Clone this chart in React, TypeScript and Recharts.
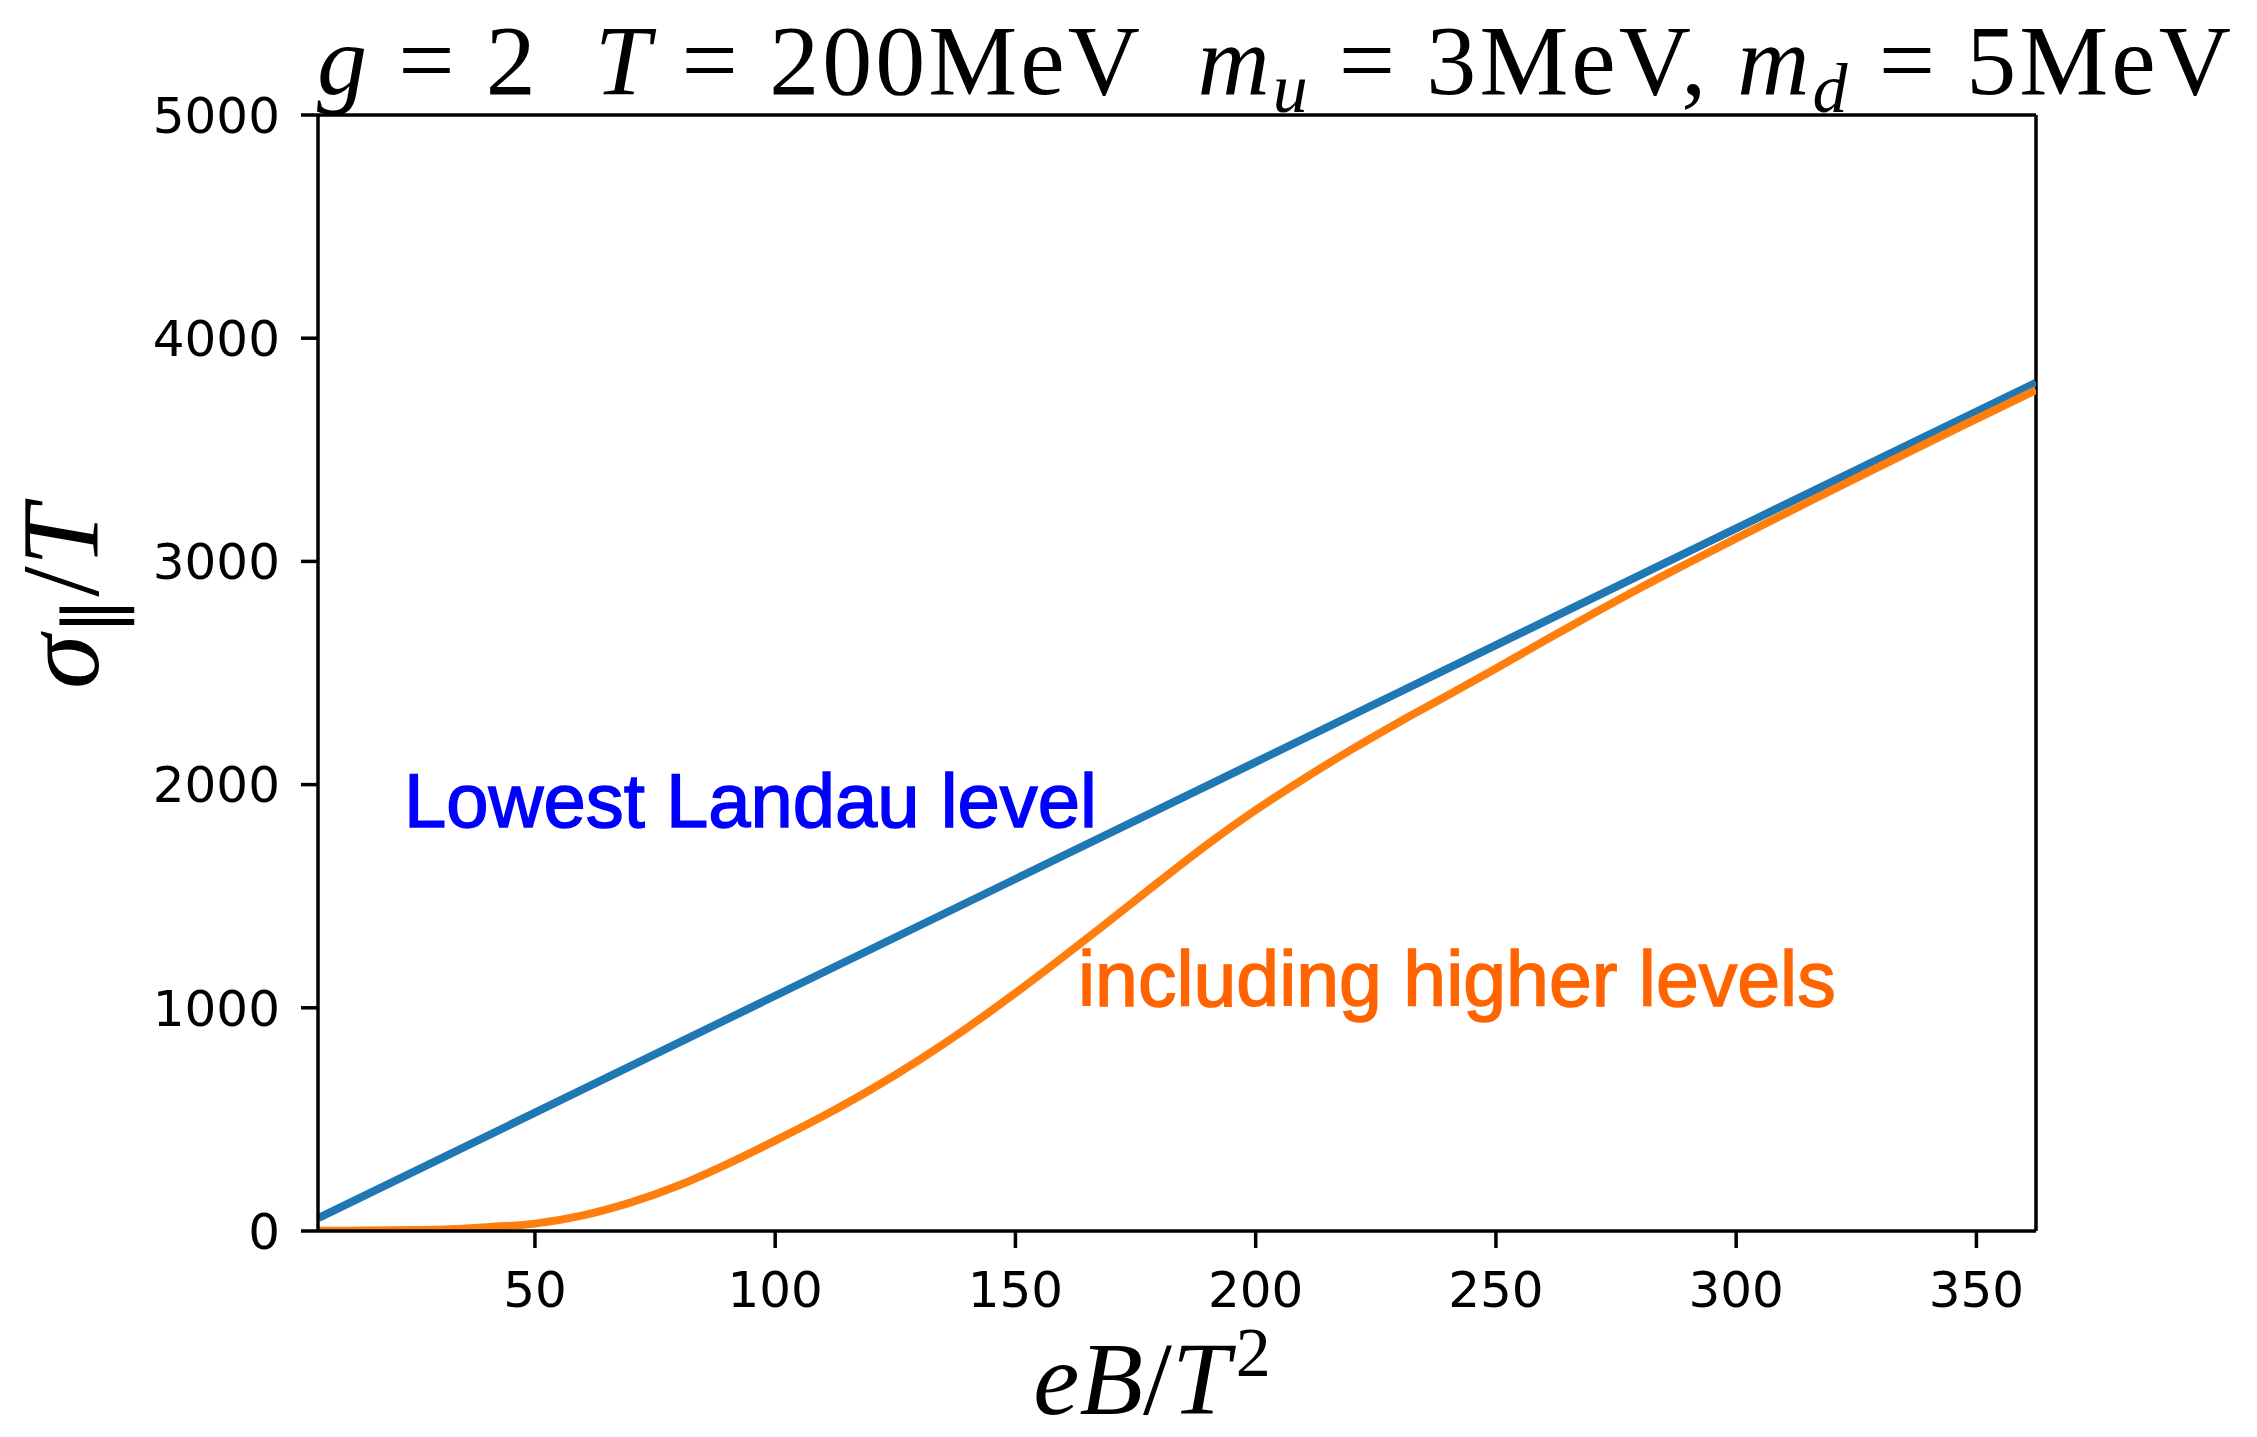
import React from 'react'
import { LineChart, XAxis, YAxis, Line, ReferenceLine } from 'recharts'

// eB/T^2 axis and ticks
const xTicks = [50, 100, 150, 200, 250, 300, 350]
const yTicks = [0, 1000, 2000, 3000, 4000, 5000]
const xMin = 4.85
const xMax = 362.4

// lowest Landau level
const lllX = [5, 50, 100, 150, 200, 250, 300, 362.4]
const lllY = [59, 530, 1054, 1577, 2101, 2625, 3148, 3801]

// including higher levels
const hlX = [5, 15, 25, 35, 40, 50, 60, 70, 80, 90, 100, 110, 120, 130, 140, 150, 160, 170, 180, 190, 200, 210, 220, 230, 240, 250, 260, 270, 280, 290, 300, 315, 330, 345, 362.4]
const hlY = [1, 2, 4, 10, 17, 33, 70, 128, 205, 300, 405, 515, 635, 767, 911, 1066, 1229, 1397, 1567, 1733, 1886, 2026, 2158, 2282, 2400, 2520, 2643, 2763, 2881, 2993, 3103, 3266, 3427, 3586, 3768]

const lllData = lllX.map((x, i) => ({ x, y: lllY[i] }))
const hlData = hlX.map((x, i) => ({ x, y: hlY[i] }))

const W = 2257
const H = 1437
const tickFont = { fontFamily: 'DejaVu Sans', fontSize: 50, fill: '#000' }
const serif = 'Liberation Serif'

export default function App() {
  return (
    <div style={{ position: 'absolute', left: 0, top: 0, width: W, height: H, background: '#fff' }}>
      <LineChart
        width={W}
        height={H}
        margin={{ top: 115, right: 221, bottom: 56, left: 118 }}
      >
        <XAxis
          type="number"
          dataKey="x"
          domain={[xMin, xMax]}
          ticks={xTicks}
          allowDataOverflow
          height={150}
          axisLine={{ stroke: '#000', strokeWidth: 3.5 }}
          tickLine={{ stroke: '#000', strokeWidth: 3.5 }}
          tickSize={17}
          tickMargin={23}
          tick={tickFont}
        />
        <YAxis
          type="number"
          domain={[0, 5000]}
          ticks={yTicks}
          allowDataOverflow
          width={200}
          axisLine={{ stroke: '#000', strokeWidth: 3.5 }}
          tickLine={{ stroke: '#000', strokeWidth: 3.5 }}
          tickSize={17}
          tickMargin={21}
          tick={tickFont}
        />
        <ReferenceLine y={5000} stroke="#000" strokeWidth={3.5} />
        <ReferenceLine x={xMax} stroke="#000" strokeWidth={3.5} />
        <Line
          data={lllData}
          dataKey="y"
          type="linear"
          stroke="#1f77b4"
          strokeWidth={8}
          dot={false}
          isAnimationActive={false}
        />
        <Line
          data={hlData}
          dataKey="y"
          type="monotone"
          stroke="#ff7f0e"
          strokeWidth={8}
          dot={false}
          isAnimationActive={false}
        />
      </LineChart>
      <svg
        width={W}
        height={H}
        style={{ position: 'absolute', left: 0, top: 0, pointerEvents: 'none' }}
      >
        <text x={317} y={94} fontFamily={serif} fontSize={100} fill="#000" textLength={1914} lengthAdjust="spacing" style={{ whiteSpace: 'pre' }}>
          <tspan fontStyle="italic">g</tspan>
          <tspan> = 2  </tspan>
          <tspan fontStyle="italic">T</tspan>
          <tspan> = 200MeV  </tspan>
          <tspan fontStyle="italic">m</tspan>
          <tspan fontStyle="italic" fontSize={70} dy={18}>u</tspan>
          <tspan dy={-18}> = 3MeV, </tspan>
          <tspan fontStyle="italic">m</tspan>
          <tspan fontStyle="italic" fontSize={70} dy={18}>d</tspan>
          <tspan dy={-18}> = 5MeV</tspan>
        </text>
        <text x={1152} y={1414} fontFamily={serif} fontSize={104} fill="#000" textAnchor="middle">
          <tspan fontStyle="italic">eB</tspan>
          <tspan>/</tspan>
          <tspan fontStyle="italic">T</tspan>
          <tspan fontSize={70} dx={6} dy={-38}>2</tspan>
        </text>
        <text x={98} y={597} fontFamily={serif} fontSize={110} fill="#000" textAnchor="middle" transform="rotate(-90 98 597)">
          <tspan fontStyle="italic">σ</tspan>
          <tspan fontSize={76} dy={20}>∥</tspan>
          <tspan dy={-20}>/</tspan>
          <tspan fontStyle="italic">T</tspan>
        </text>
        <text x={404} y={827} fontFamily="Liberation Sans" fontSize={76} fill="#0000ff" stroke="#0000ff" strokeWidth={1.5}>
          Lowest Landau level
        </text>
        <text x={1078} y={1006} fontFamily="Liberation Sans" fontSize={77} fill="#ff6400" stroke="#ff6400" strokeWidth={1.5}>
          including higher levels
        </text>
      </svg>
    </div>
  )
}
